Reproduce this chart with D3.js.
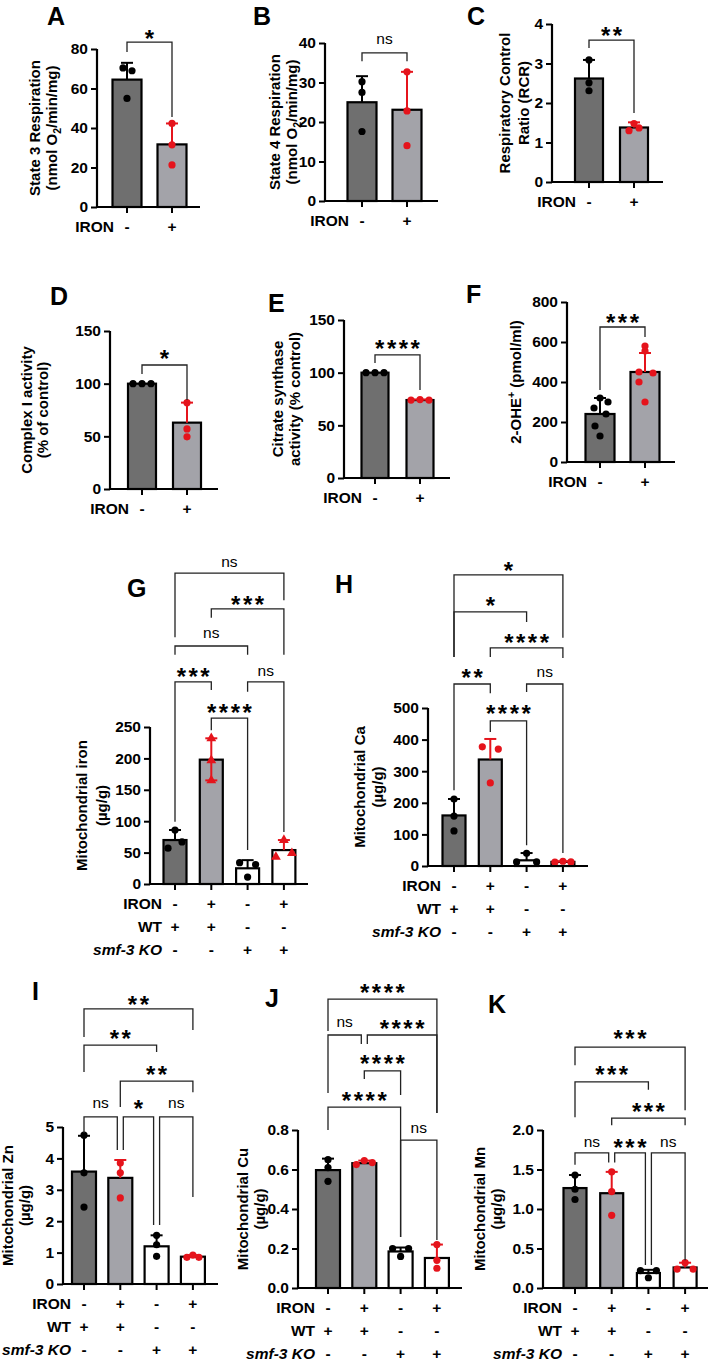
<!DOCTYPE html>
<html><head><meta charset="utf-8">
<script src="https://cdn.jsdelivr.net/npm/d3@7"></script>
<style>
html,body{margin:0;padding:0;background:#fff;}
svg text{font-family:"Liberation Sans",Arial,Helvetica,sans-serif;fill:#000;}
</style></head><body>
<svg id="fig" width="714" height="1363"></svg>
<script>
// ---------------- DATA ----------------
const iron2 = ["-", "+"];
const iron4 = ["-", "+", "-", "+"];
const wtRow = ["+", "+", "-", "-"];
const koRow = ["-", "-", "+", "+"];

const aTicks = [0, 20, 40, 60, 80];
const aMeans = [64.5, 31.7];
const aErr = [73, 42.3];
const aPts = [[70.4, 69, 55], [42.3, 31.5, 21.3]];
const aSig = [[0, 1, "*"]];

const bTicks = [0, 10, 20, 30, 40];
const bMeans = [25, 23.1];
const bErr = [31.6, 32.7];
const bPts = [[30.2, 27.5, 17.6], [32.7, 22.8, 14]];
const bSig = [[0, 1, "ns"]];

const cTicks = [0, 1, 2, 3, 4];
const cMeans = [2.62, 1.38];
const cErr = [3.09, 1.51];
const cPts = [[3.09, 2.51, 2.31], [1.48, 1.30, 1.37]];
const cSig = [[0, 1, "**"]];

const dTicks = [0, 50, 100, 150];
const dMeans = [100, 63];
const dErr = [100, 82];
const dPts = [[100, 100, 100], [82, 57, 49.5]];
const dSig = [[0, 1, "*"]];

const eTicks = [0, 50, 100, 150];
const eMeans = [100, 74];
const eErr = [100, 74.5];
const ePts = [[100, 100, 100], [74, 74.5, 74]];
const eSig = [[0, 1, "****"]];

const fTicks = [0, 200, 400, 600, 800];
const fMeans = [240, 450];
const fErr = [320, 545];
const fPts = [[320, 300, 270, 240, 180, 130], [580, 555, 450, 445, 400, 300]];
const fSig = [[0, 1, "***"]];

const gTicks = [0, 50, 100, 150, 200, 250];
const gMeans = [70, 198, 25, 54];
const gErr = [86, 232, 38, 70];
const gPts = [[86, 67, 57], [232, 197, 165], [34, 31, 11], [70, 43, 49]];
const gSig = [[0, 3, "ns"], [1, 3, "***"], [0, 2, "ns"], [0, 1, "***"], [2, 3, "ns"], [1, 2, "****"]];

const hTicks = [0, 100, 200, 300, 400, 500];
const hMeans = [160, 337, 18, 13];
const hErr = [212, 402, 41, 15];
const hPts = [[212, 158, 111], [377, 370, 263], [40, 13, 13], [12, 15, 13]];
const hSig = [[0, 3, "*"], [0, 2, "*"], [1, 3, "****"], [0, 1, "**"], [2, 3, "ns"], [1, 2, "****"]];

const iTicks = [0, 1, 2, 3, 4, 5];
const iMeans = [3.58, 3.38, 1.2, 0.87];
const iErr = [4.72, 3.95, 1.55, 0.92];
const iPts = [[4.74, 3.54, 2.45], [3.85, 3.54, 2.74], [1.55, 1.25, 0.88], [0.85, 0.92, 0.85]];
const iSig = [[0, 3, "**"], [0, 2, "**"], [1, 3, "**"], [0, 1, "ns"], [1, 2, "*"], [2, 3, "ns"]];

const jTicks = [0, 0.2, 0.4, 0.6, 0.8];
const jMeans = [0.597, 0.632, 0.185, 0.152];
const jErr = [0.655, 0.645, 0.205, 0.22];
const jPts = [[0.65, 0.61, 0.54], [0.625, 0.645, 0.635], [0.2, 0.2, 0.16], [0.22, 0.14, 0.10]];
const jSig = [[0, 3, "****"], [0, 1, "ns"], [1, 3, "****"], [1, 2, "****"], [0, 2, "****"], [2, 3, "ns"]];

const kTicks = [0, 0.5, 1.0, 1.5, 2.0];
const kMeans = [1.265, 1.2, 0.19, 0.26];
const kErr = [1.43, 1.47, 0.23, 0.32];
const kPts = [[1.43, 1.25, 1.12], [1.47, 1.22, 0.92], [0.22, 0.22, 0.13], [0.32, 0.24, 0.24]];
const kSig = [[0, 3, "***"], [0, 2, "***"], [1, 3, "***"], [0, 1, "ns"], [1, 2, "***"], [2, 3, "ns"]];

// ---------------- LAYOUT ----------------
const RED = "#e5141c";
const FILL2 = ["#6f6f6f", "#a3a3a9"];
const FILL4 = ["#6f6f6f", "#a3a3a9", "#ffffff", "#ffffff"];
const COL2 = ["#000", RED];
const COL4 = ["#000", RED, "#000", RED];

const svg = d3.select("#fig");

function richText(sel, str) {
  const parts = str.split(/(_\{[^}]*\}|\^\{[^}]*\})/).filter(s => s.length);
  let shift = 0;
  parts.forEach(p => {
    let target = 0, txt = p, small = false;
    if (p.startsWith("_{")) { target = 4; txt = p.slice(2, -1); small = true; }
    else if (p.startsWith("^{")) { target = -6; txt = p.slice(2, -1); small = true; }
    const t = sel.append("tspan").attr("dy", target - shift).text(txt);
    if (small) t.attr("font-size", "70%");
    shift = target;
  });
}

function sigText(g, x, yc, label) {
  if (label === "ns") {
    g.append("text").attr("x", x).attr("y", yc + 5).attr("text-anchor", "middle")
      .attr("font-size", 15.5).text("ns");
  } else {
    g.append("text").attr("x", x + 1.25).attr("y", yc + 14).attr("text-anchor", "middle")
      .attr("font-size", 24).attr("font-weight", "bold").attr("letter-spacing", 2.5).text(label);
  }
}

function drawPanel(cfg, d) {
  const g = svg.append("g");
  const n = d.means.length;
  const cats = d3.range(n);
  const pi = 1 - cfg.bw / cfg.step;
  const x = d3.scaleBand().domain(cats)
    .range([cfg.c1 - cfg.step / 2, cfg.c1 + (n - 1) * cfg.step + cfg.step / 2])
    .paddingInner(pi).paddingOuter(pi / 2);
  const cx = i => x(i) + x.bandwidth() / 2;
  const y = d3.scaleLinear().domain([0, cfg.max]).range([cfg.y0, cfg.yTop]);

  g.append("text").attr("x", cfg.lx).attr("y", cfg.ly).attr("font-size", 25)
    .attr("font-weight", "bold").text(cfg.letter);

  g.selectAll("rect.bar").data(d.means).join("rect").attr("class", "bar")
    .attr("x", (v, i) => x(i)).attr("width", x.bandwidth())
    .attr("y", v => y(v)).attr("height", v => y(0) - y(v))
    .attr("fill", (v, i) => cfg.fills[i]).attr("stroke", "#000").attr("stroke-width", 2.2);

  d.means.forEach((m, i) => {
    const top = d.err[i];
    const lo = (cfg.errLo && cfg.errLo[i] != null) ? cfg.errLo[i] : m;
    if (Math.abs(top - m) < 1e-9 && lo === m) return;
    const col = cfg.cols[i];
    g.append("line").attr("x1", cx(i)).attr("x2", cx(i)).attr("y1", y(lo)).attr("y2", y(top))
      .attr("stroke", col).attr("stroke-width", 2);
    g.append("line").attr("x1", cx(i) - 6).attr("x2", cx(i) + 6).attr("y1", y(top)).attr("y2", y(top))
      .attr("stroke", col).attr("stroke-width", 2);
    if (lo !== m) g.append("line").attr("x1", cx(i) - 6).attr("x2", cx(i) + 6).attr("y1", y(lo)).attr("y2", y(lo))
      .attr("stroke", col).attr("stroke-width", 2);
  });

  d.pts.forEach((arr, i) => {
    arr.forEach((v, k) => {
      const px = cx(i) + (cfg.jit ? cfg.jit[i][k] : 0);
      if (cfg.tri && cfg.cols[i] === RED) {
        g.append("path").attr("d", d3.symbol(d3.symbolTriangle, 42)())
          .attr("transform", `translate(${px},${y(v)})`).attr("fill", cfg.cols[i]);
      } else {
        g.append("circle").attr("cx", px).attr("cy", y(v)).attr("r", 3.6).attr("fill", cfg.cols[i]);
      }
    });
  });

  const ya = g.append("g").attr("transform", `translate(${cfg.L},0)`)
    .call(d3.axisLeft(y).tickValues(d.ticks).tickSize(6).tickSizeOuter(0).tickPadding(3)
      .tickFormat(cfg.fmt || d3.format("d")));
  ya.select(".domain").attr("stroke-width", 2.2).attr("d", `M0,${cfg.y0 + 1}V${cfg.yTop}`);
  ya.selectAll(".tick line").attr("stroke-width", 2);
  ya.selectAll(".tick text").attr("font-size", 15.5).attr("font-weight", "bold")
    .attr("font-family", '"Liberation Sans",Arial,sans-serif').attr("fill", "#000");

  const xa = g.append("g").attr("transform", `translate(0,${cfg.y0})`)
    .call(d3.axisBottom(x).tickSize(6).tickSizeOuter(0).tickFormat(""));
  xa.select(".domain").remove();
  xa.selectAll(".tick line").attr("stroke-width", 2);
  g.append("line").attr("x1", cfg.L - 1).attr("x2", cfg.R).attr("y1", cfg.y0).attr("y2", cfg.y0)
    .attr("stroke", "#000").attr("stroke-width", 2.2);

  const rowOff = [19, 42, 65];
  cfg.rows.forEach((r, k) => {
    const yy = cfg.y0 + rowOff[k];
    const t = g.append("text").attr("x", cx(0) - 13).attr("y", yy).attr("dy", "0.36em")
      .attr("text-anchor", "end").attr("font-size", 15.5).attr("font-weight", "bold").text(r[0]);
    if (r[2]) t.attr("font-style", "italic");
    r[1].forEach((s, i) => {
      g.append("text").attr("x", cx(i)).attr("y", yy).attr("dy", "0.36em")
        .attr("text-anchor", "middle").attr("font-size", 15.5).attr("font-weight", "bold").text(s);
    });
  });

  const midY = (cfg.y0 + cfg.yTop) / 2;
  cfg.ylab.forEach((s, k) => {
    const t = g.append("text").attr("transform", `translate(${cfg.L + cfg.ylabOff[k]},${midY}) rotate(-90)`)
      .attr("text-anchor", "middle").attr("dy", "0.36em").attr("font-size", 15).attr("font-weight", "bold");
    richText(t, s);
  });

  d.sig.forEach((s, k) => {
    const b = cfg.br[k];
    const gap = cfg.gaps ? cfg.gaps[k] : [0, 0];
    const xa1 = cx(s[0]) + gap[0], xb1 = cx(s[1]) + gap[1];
    g.append("path")
      .attr("d", `M${xa1},${y(b[1])}V${y(b[0])}H${xb1}V${y(b[2])}`)
      .attr("fill", "none").attr("stroke", "#222").attr("stroke-width", 1.3);
    sigText(g, (xa1 + xb1) / 2, y(b[3]), s[2]);
  });
}

const r2 = [["IRON", iron2]];
const r4 = [["IRON", iron4], ["WT", wtRow], ["smf-3 KO", koRow, true]];
const gapsStd = [[0, 0], [0, 0], [0, 0], [0, -3], [3, -3], [3, 0]];

drawPanel({letter: "A", lx: 47, ly: 25, L: 97, R: 200, y0: 207, yTop: 49, max: 80, c1: 127, step: 45, bw: 29,
  fills: FILL2, cols: COL2, rows: r2, ylab: ["State 3 Respiration", "(nmol O_{2}/min/mg)"], ylabOff: [-57, -40],
  jit: [[-4, 5, 0], [0, 0, 0]], br: [[83.5, 78.5, 45.6, 88.1]]},
  {means: aMeans, err: aErr, pts: aPts, ticks: aTicks, sig: aSig});

drawPanel({letter: "B", lx: 253, ly: 25, L: 325, R: 438, y0: 201, yTop: 43, max: 40, c1: 362, step: 45, bw: 29,
  fills: FILL2, cols: COL2, rows: r2, ylab: ["State 4 Respiration", "(nmol O_{2}/min/mg)"], ylabOff: [-45, -28],
  br: [[37.5, 35.4, 35.4, 41]]},
  {means: bMeans, err: bErr, pts: bPts, ticks: bTicks, sig: bSig});

drawPanel({letter: "C", lx: 467, ly: 25, L: 552, R: 663, y0: 182, yTop: 24, max: 4, c1: 589, step: 45, bw: 28,
  fills: FILL2, cols: COL2, rows: r2, ylab: ["Respiratory Control", "Ratio (RCR)"], ylabOff: [-42, -23],
  jit: [[0, 0, 0], [0, -5, 5]], br: [[3.59, 3.39, 1.75, 3.85]]},
  {means: cMeans, err: cErr, pts: cPts, ticks: cTicks, sig: cSig});

drawPanel({letter: "D", lx: 50, ly: 305, L: 110, R: 218, y0: 489, yTop: 331, max: 150, c1: 142, step: 45, bw: 28,
  fills: FILL2, cols: COL2, rows: r2, ylab: ["Complex I activity", "(% of control)"], ylabOff: [-78, -62],
  jit: [[-9, 0, 9], [0, 0, 0]], br: [[117.7, 109.2, 84.5, 129]]},
  {means: dMeans, err: dErr, pts: dPts, ticks: dTicks, sig: dSig});

drawPanel({letter: "E", lx: 268, ly: 312, L: 344, R: 450, y0: 478, yTop: 320, max: 150, c1: 375, step: 45, bw: 27,
  fills: FILL2, cols: COL2, rows: r2, ylab: ["Citrate synthase", "activity (% control)"], ylabOff: [-61, -44],
  jit: [[-9, 0, 9], [-9, 0, 9]], br: [[116.8, 109.2, 83.5, 128.2]]},
  {means: eMeans, err: eErr, pts: ePts, ticks: eTicks, sig: eSig});

drawPanel({letter: "F", lx: 466, ly: 303, L: 567, R: 675, y0: 462, yTop: 302, max: 800, c1: 600, step: 45, bw: 29,
  fills: FILL2, cols: COL2, rows: r2, ylab: ["2-OHE^{+} (pmol/ml)"], ylabOff: [-46],
  jit: [[0, 8, -6, 6, -5, 0], [0, 0, -6, 8, -6, 0]], br: [[675, 360, 625, 725]]},
  {means: fMeans, err: fErr, pts: fPts, ticks: fTicks, sig: fSig});

drawPanel({letter: "G", lx: 127, ly: 597, L: 150, R: 308, y0: 884, yTop: 727, max: 250, c1: 175, step: 36.3, bw: 23,
  fills: FILL4, cols: COL4, rows: r4, ylab: ["Mitochondrial iron", "(µg/g)"], ylabOff: [-63, -43], tri: true,
  errLo: [null, 165, null, null],
  jit: [[0, 7, -7], [0, 0, 0], [-8, 8, 0], [0, -8, 8]],
  br: [[495, 393, 452, 513], [438, 424, 365, 454], [379, 365, 365, 400], [322, 99, 309, 339], [322, 306, 83, 339], [264, 245, 54, 282]]},
  {means: gMeans, err: gErr, pts: gPts, ticks: gTicks, sig: gSig});

drawPanel({letter: "H", lx: 335, ly: 593, L: 428, R: 588, y0: 866, yTop: 708, max: 500, c1: 454, step: 36.3, bw: 23,
  fills: FILL4, cols: COL4, rows: r4, ylab: ["Mitochondrial Ca", "(µg/g)"], ylabOff: [-63, -45],
  jit: [[0, 0, 0], [-8, 8, 0], [0, -10, 10], [-8, 0, 8]],
  br: [[921, 661, 722, 953], [804, 661, 772, 842], [690, 661, 658, 725], [576, 240, 547, 614], [576, 551, 41, 614], [459, 424, 66, 500]]},
  {means: hMeans, err: hErr, pts: hPts, ticks: hTicks, sig: hSig});

drawPanel({letter: "I", lx: 32, ly: 1000, L: 63, R: 218, y0: 1284, yTop: 1127, max: 5, c1: 84, step: 36.3, bw: 24,
  fills: FILL4, cols: COL4, rows: r4, ylab: ["Mitochondrial Zn", "(µg/g)"], ylabOff: [-50, -33],
  jit: [[0, 0, 0], [0, 0, 0], [0, 0, 0], [-6, 0, 6]], gaps: gapsStd,
  br: [[8.76, 7.87, 8.09, 9.08], [7.61, 6.75, 7.39, 7.99], [6.46, 5.64, 6.11, 6.85], [5.32, 4.81, 4.27, 5.76], [5.32, 4.27, 1.88, 5.76], [5.32, 1.88, 2.77, 5.76]]},
  {means: iMeans, err: iErr, pts: iPts, ticks: iTicks, sig: iSig});

drawPanel({letter: "J", lx: 265, ly: 1007, L: 298, R: 462, y0: 1288, yTop: 1130, max: 0.8, c1: 328, step: 36.3, bw: 24,
  fills: FILL4, cols: COL4, rows: r4, ylab: ["Mitochondrial Cu", "(µg/g)"], ylabOff: [-50, -33], fmt: d3.format(".1f"),
  jit: [[0, 0, 0], [-8, 0, 8], [-8, 8, 0], [0, 0, 0]], gaps: [[0, 0], [0, -3], [3, 0], [0, 0], [0, 0], [0, 0]],
  br: [[1.463, 1.301, 0.886, 1.524], [1.281, 0.987, 1.235, 1.347], [1.281, 1.235, 0.886, 1.342], [1.099, 1.058, 0.977, 1.165], [0.916, 0.80, 0.258, 0.977], [0.749, 0.258, 0.243, 0.81]]},
  {means: jMeans, err: jErr, pts: jPts, ticks: jTicks, sig: jSig});

drawPanel({letter: "K", lx: 488, ly: 1013, L: 543, R: 708, y0: 1288, yTop: 1130, max: 2, c1: 575, step: 36.7, bw: 23,
  fills: FILL4, cols: COL4, rows: r4, ylab: ["Mitochondrial Mn", "(µg/g)"], ylabOff: [-58, -41], fmt: d3.format(".1f"),
  jit: [[0, 0, 0], [0, 0, 0], [-8, 8, 0], [0, -8, 8]], gaps: gapsStd,
  br: [[3.05, 2.82, 2.25, 3.23], [2.61, 2.16, 2.51, 2.77], [2.15, 2.06, 2.06, 2.30], [1.71, 1.56, 1.59, 1.85], [1.71, 1.59, 0.29, 1.85], [1.71, 0.29, 0.35, 1.85]]},
  {means: kMeans, err: kErr, pts: kPts, ticks: kTicks, sig: kSig});
</script>
</body></html>
